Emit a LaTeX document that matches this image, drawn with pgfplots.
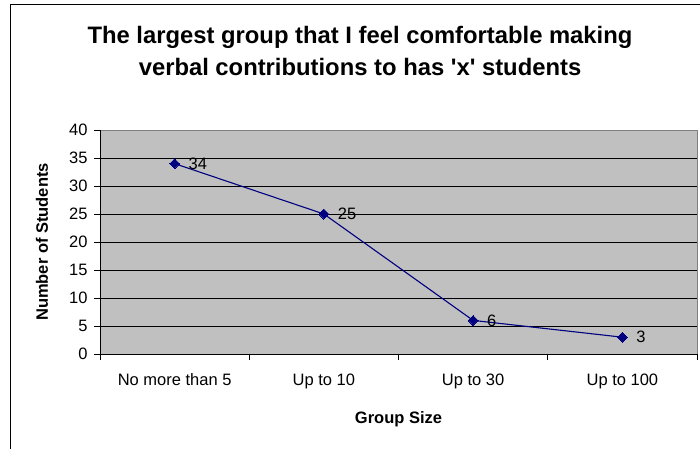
\documentclass[border=0pt]{standalone}
\usepackage{pgfplots}
\pgfplotsset{compat=1.18}
\usepackage{fontspec}
\setmainfont{Liberation Sans}
\newfontfamily\plainfont{Liberation Sans}
\definecolor{plotgray}{HTML}{C0C0C0}
\definecolor{bordergray}{HTML}{808080}
\definecolor{navyline}{HTML}{000080}
\begin{document}
\begin{tikzpicture}
\useasboundingbox (0pt,0pt) rectangle (700pt,448pt);
\draw[black, line width=1pt] (10pt,-20pt) rectangle (720pt,443pt);
\node[align=center, font=\plainfont\fontsize{23.8}{32}\selectfont\bfseries] at (360pt,397pt)
  {The largest group that I feel comfortable making\\verbal contributions to has 'x' students};
\begin{axis}[
  at={(100pt,94pt)}, anchor=south west,
  scale only axis, width=597pt, height=224pt,
  xmin=-0.5, xmax=3.5, ymin=0, ymax=40,
  ytick={0,5,...,40},
  xtick={0,1,2,3},
  xtick pos=bottom, ytick pos=left,
  xticklabels={No more than 5, Up to 10, Up to 30, Up to 100},
  major x tick style={draw=none},
  extra x ticks={-0.5,0.5,1.5,2.5,3.5},
  extra x tick labels={},
  extra x tick style={grid=none, major tick length=6pt, tick align=outside, xtick pos=bottom, major x tick style={draw=black, line width=0.8pt}},
  major y tick style={black, line width=0.8pt},
  ytick align=outside, major tick length=6pt,
  ymajorgrids, grid style={black, line width=0.8pt},
  axis line style={draw=none},
  axis background/.style={fill=plotgray},
  /pgf/number format/assume math mode=true,
  tick label style={font=\fontsize{16.5}{19}\selectfont},
  xticklabel style={yshift=-16pt},
  yticklabel style={xshift=-3pt},
  xlabel={Group Size}, ylabel={Number of Students},
  label style={font=\fontsize{16.5}{19}\selectfont\bfseries},
  xlabel style={at={(axis description cs:0.5,-0.29)}, anchor=center},
  ylabel style={at={(axis description cs:-0.097,0.5)}, anchor=center},
  clip=false,
  nodes near coords,
  every node near coord/.append style={font=\fontsize{16.5}{19}\selectfont, anchor=west, inner sep=0pt, xshift=14pt, text=black},
]
\addplot[color=navyline, line width=1.1pt, mark=diamond*, mark size=5pt, mark options={fill=navyline, draw=navyline, line width=0pt, xscale=1.3}]
  coordinates {(0,34) (1,25) (2,6) (3,3)};
\draw[bordergray, line width=1pt] (rel axis cs:0,1) -- (rel axis cs:1,1) -- (rel axis cs:1,0);
\draw[black, line width=1pt] (rel axis cs:0,1) -- (rel axis cs:0,0) -- (rel axis cs:1,0);
\end{axis}
\end{tikzpicture}
\end{document}
